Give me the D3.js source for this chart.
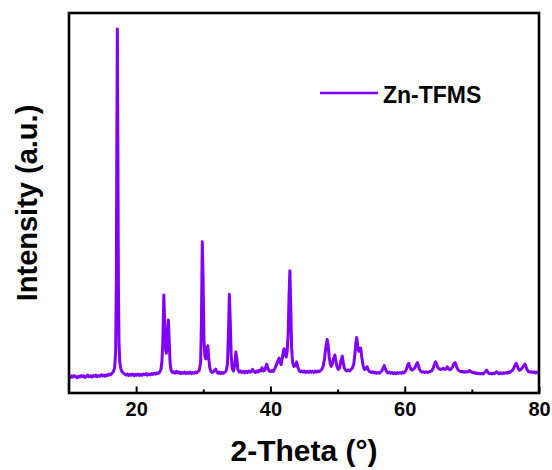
<!DOCTYPE html>
<html>
<head>
<meta charset="utf-8">
<script src="https://cdn.jsdelivr.net/npm/d3@7"></script>
<style>
  html, body { margin: 0; padding: 0; background: #fff; }
  svg { display: block; font-family: "Liberation Sans", Arial, sans-serif; }
</style>
</head>
<body>
<svg id="chart" width="552" height="470"></svg>
<script>
// Powder XRD scan of Zn-TFMS: [2-theta (deg), intensity (arb. counts)]
const scan = [
  [10.0,44],[10.2,41],[10.4,45],[10.6,42],[10.8,46],[11.0,43],[11.2,40],[11.4,44],[11.6,42],[11.8,46],
  [12.0,43],[12.2,45],[12.4,41],[12.6,44],[12.8,47],[13.0,43],[13.2,45],[13.4,42],[13.6,46],[13.8,44],
  [14.0,47],[14.2,43],[14.4,46],[14.6,44],[14.8,48],[15.0,45],[15.2,47],[15.4,44],[15.6,48],[15.8,46],
  [16.0,50],[16.2,48],[16.4,52],[16.6,56],[16.8,66],[16.95,110],[17.05,300],[17.12,650],[17.2,958],
  [17.28,640],[17.36,280],[17.45,130],[17.55,85],[17.7,65],[17.9,56],[18.1,52],[18.3,50],[18.5,47],
  [18.7,50],[18.9,46],[19.1,49],[19.3,47],[19.5,50],[19.7,46],[19.9,49],[20.1,47],[20.3,50],[20.5,46],
  [20.7,49],[20.9,47],[21.1,50],[21.3,48],[21.5,51],[21.7,47],[21.9,50],[22.1,48],[22.3,51],[22.5,49],
  [22.7,52],[22.9,50],[23.1,53],[23.3,51],[23.5,55],[23.7,62],[23.85,85],[24.0,150],[24.12,258],
  [24.25,190],[24.38,115],[24.5,105],[24.65,135],[24.8,192],[24.92,140],[25.05,80],[25.2,60],[25.4,54],
  [25.6,56],[25.8,52],[26.0,57],[26.2,53],[26.4,55],[26.6,51],[26.8,54],[27.0,52],[27.2,55],[27.4,51],
  [27.6,54],[27.8,52],[28.0,55],[28.2,51],[28.4,54],[28.6,52],[28.8,55],[29.0,53],[29.2,56],[29.4,60],
  [29.6,80],[29.72,180],[29.85,398],[29.97,300],[30.1,140],[30.25,95],[30.4,90],[30.55,115],[30.68,124],
  [30.8,95],[30.95,68],[31.1,58],[31.3,54],[31.5,56],[31.7,60],[31.85,63],[32.0,56],[32.2,52],[32.4,55],
  [32.6,51],[32.8,54],[33.0,52],[33.2,55],[33.4,58],[33.6,75],[33.75,160],[33.88,260],[34.0,200],
  [34.15,100],[34.3,65],[34.5,58],[34.7,75],[34.85,108],[35.0,90],[35.15,62],[35.35,55],[35.55,58],
  [35.75,54],[35.95,57],[36.15,53],[36.35,57],[36.55,54],[36.75,58],[36.95,55],[37.15,57],[37.35,62],
  [37.55,56],[37.75,54],[37.95,58],[38.15,55],[38.35,60],[38.55,58],[38.75,66],[38.95,58],[39.15,60],
  [39.3,68],[39.45,76],[39.6,66],[39.8,58],[40.0,56],[40.2,59],[40.4,57],[40.6,62],[40.8,70],[41.0,80],
  [41.15,86],[41.3,92],[41.45,80],[41.6,75],[41.8,95],[41.95,112],[42.05,116],[42.2,100],[42.35,95],
  [42.5,110],[42.65,160],[42.78,260],[42.9,322],[43.02,230],[43.15,120],[43.3,80],[43.5,70],[43.7,72],
  [43.9,82],[44.05,70],[44.25,60],[44.45,56],[44.65,58],[44.85,55],[45.05,58],[45.25,54],[45.45,57],
  [45.65,54],[45.85,58],[46.05,55],[46.25,57],[46.45,54],[46.65,58],[46.85,55],[47.05,58],[47.25,56],
  [47.45,59],[47.65,62],[47.85,70],[48.05,90],[48.25,120],[48.45,141],[48.6,125],[48.75,95],[48.9,78],
  [49.05,70],[49.2,76],[49.4,90],[49.6,100],[49.75,85],[49.9,70],[50.1,62],[50.3,66],[50.5,85],[50.7,97],
  [50.85,80],[51.0,66],[51.2,60],[51.4,58],[51.6,61],[51.8,58],[52.0,62],[52.2,66],[52.4,75],[52.6,105],
  [52.75,135],[52.85,146],[53.0,125],[53.15,110],[53.3,112],[53.45,118],[53.6,95],[53.8,72],[54.0,62],
  [54.2,63],[54.4,69],[54.6,60],[54.8,56],[55.0,54],[55.2,56],[55.4,53],[55.6,55],[55.8,52],[56.0,54],
  [56.2,52],[56.4,55],[56.6,58],[56.8,66],[56.95,72],[57.1,64],[57.3,56],[57.5,53],[57.7,55],[57.9,52],
  [58.1,54],[58.3,51],[58.5,53],[58.7,51],[58.9,54],[59.1,52],[59.3,54],[59.5,52],[59.7,55],[59.9,53],
  [60.1,57],[60.3,65],[60.45,74],[60.6,78],[60.75,70],[60.9,63],[61.1,60],[61.3,63],[61.5,66],[61.7,74],
  [61.9,80],[62.05,72],[62.2,62],[62.4,57],[62.6,55],[62.8,56],[63.0,54],[63.2,56],[63.4,54],[63.6,55],
  [63.8,57],[64.0,58],[64.2,64],[64.4,74],[64.6,82],[64.75,76],[64.9,68],[65.1,64],[65.3,62],[65.5,63],
  [65.75,65],[65.95,62],[66.15,64],[66.35,69],[66.55,63],[66.75,61],[66.95,64],[67.15,70],[67.35,78],
  [67.5,80],[67.65,74],[67.8,66],[68.0,60],[68.2,58],[68.4,56],[68.6,57],[68.8,55],[69.0,56],[69.2,55],
  [69.4,56],[69.55,58],[69.7,59],[69.85,56],[70.05,54],[70.25,55],[70.45,52],[70.65,53],[70.85,51],
  [71.05,52],[71.25,50],[71.45,52],[71.65,50],[71.85,53],[72.05,56],[72.2,60],[72.35,55],[72.55,51],
  [72.75,52],[72.95,50],[73.15,52],[73.35,51],[73.55,54],[73.7,56],[73.85,53],[74.05,51],[74.25,53],
  [74.45,51],[74.65,53],[74.85,52],[75.05,54],[75.25,52],[75.45,55],[75.65,54],[75.85,57],[76.05,60],
  [76.25,66],[76.45,74],[76.6,78],[76.75,72],[76.9,64],[77.1,60],[77.3,62],[77.5,66],[77.7,72],[77.9,76],
  [78.05,70],[78.2,62],[78.4,57],[78.6,55],[78.8,56],[79.0,54],[79.2,56],[79.4,53],[79.6,55],[79.8,53],
  [80.0,54]
];

const seriesName = "Zn-TFMS";
const xDomain = [10, 80];
const yDomain = [0, 1000];
const majorTicks = [20, 40, 60, 80];
const minorTicks = [30, 50, 70];
const xTitle = "2-Theta (\u00B0)";
const yTitle = "Intensity (a.u.)";
const lineColor = "#8000ff";

const svg = d3.select("#chart");
const plot = { left: 69, right: 539, top: 13, bottom: 393 };

const x = d3.scaleLinear().domain(xDomain).range([plot.left, plot.right]);
const y = d3.scaleLinear().domain(yDomain).range([plot.bottom, plot.top]);

// Diffraction trace
const line = d3.line().x(d => x(d[0])).y(d => y(d[1]));
svg.append("path")
  .datum(scan)
  .attr("d", line)
  .attr("fill", "none")
  .attr("stroke", lineColor)
  .attr("stroke-width", 3)
  .attr("stroke-linejoin", "round");

// Bottom axis: major ticks with labels, pointing into the plot
const major = svg.append("g")
  .attr("transform", `translate(0,${plot.bottom})`)
  .call(d3.axisBottom(x).tickValues(majorTicks).tickSize(-6.5).tickPadding(9).tickFormat(d3.format("d")));
major.select(".domain").remove();
major.selectAll(".tick line").attr("stroke", "#000").attr("stroke-width", 2);
major.selectAll(".tick text")
  .attr("fill", "#000")
  .style("font-family", "'Liberation Sans', Arial, sans-serif")
  .style("font-size", "20px")
  .style("font-weight", "bold");

// Minor ticks
const minor = svg.append("g")
  .attr("transform", `translate(0,${plot.bottom})`)
  .call(d3.axisBottom(x).tickValues(minorTicks).tickSize(-3.5).tickFormat(""));
minor.select(".domain").remove();
minor.selectAll(".tick line").attr("stroke", "#000").attr("stroke-width", 2);

// Frame around the plot area
svg.append("rect")
  .attr("x", plot.left)
  .attr("y", plot.top)
  .attr("width", plot.right - plot.left)
  .attr("height", plot.bottom - plot.top)
  .attr("fill", "none")
  .attr("stroke", "#000")
  .attr("stroke-width", 2.6);

// Axis titles
svg.append("text")
  .attr("x", (plot.left + plot.right) / 2)
  .attr("y", 461)
  .attr("text-anchor", "middle")
  .style("font-size", "30px")
  .style("font-weight", "bold")
  .text(xTitle);

svg.append("text")
  .attr("transform", `translate(37,${(plot.top + plot.bottom) / 2}) rotate(-90)`)
  .attr("text-anchor", "middle")
  .style("font-size", "29px")
  .style("font-weight", "bold")
  .text(yTitle);

// Legend
const legend = svg.append("g").attr("transform", "translate(320,93)");
legend.append("line")
  .attr("x1", 0).attr("x2", 58)
  .attr("y1", 0).attr("y2", 0)
  .attr("stroke", lineColor)
  .attr("stroke-width", 2.6);
legend.append("text")
  .attr("x", 63)
  .attr("y", 10)
  .style("font-size", "23px")
  .style("font-weight", "bold")
  .text(seriesName);
</script>
</body>
</html>
